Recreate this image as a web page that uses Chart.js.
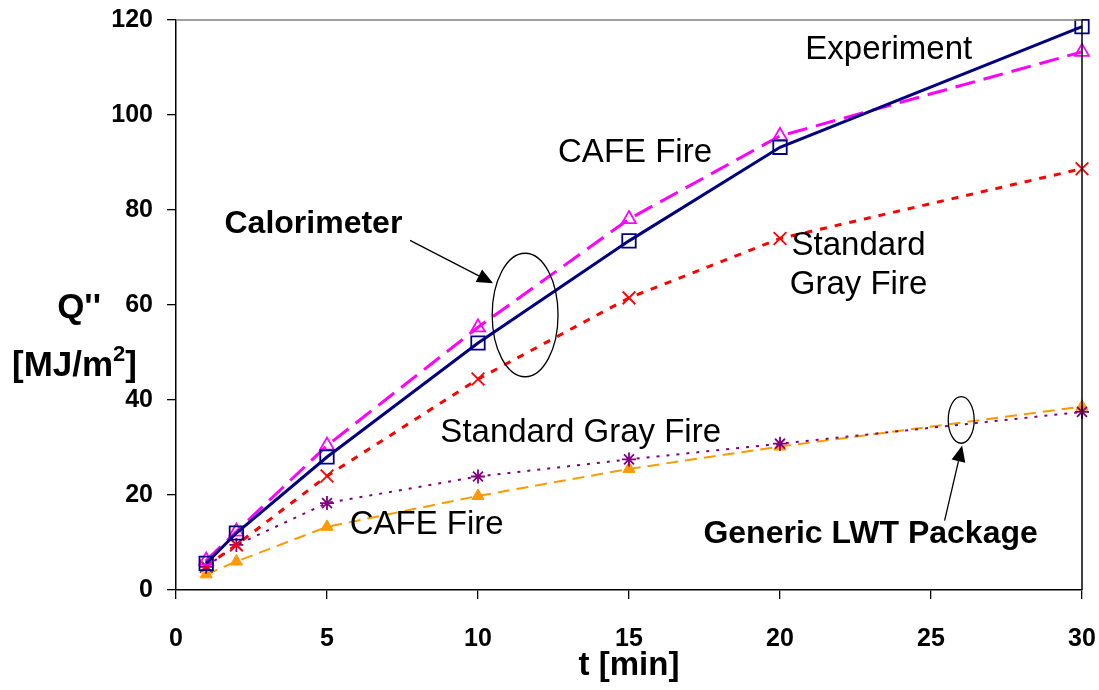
<!DOCTYPE html>
<html><head><meta charset="utf-8">
<script src="https://cdn.jsdelivr.net/npm/chart.js@4.4.1/dist/chart.umd.min.js"></script>
<style>html,body{margin:0;padding:0;background:#fff}#wrap{width:1099px;height:690px}</style>
</head><body><div id="wrap"><canvas id="c" width="1099" height="690"></canvas></div>
<script>
const times = [1, 2, 5, 10, 15, 20, 30];
const experiment = [5.6, 12, 28, 52, 73.5, 93.2, 118.6];
const cafeCalorimeter = [6.2, 12.3, 30.4, 55.3, 78.1, 95.6, 113.3];
const grayCalorimeter = [5.0, 9.5, 24.0, 44.4, 61.5, 74.0, 88.7];
const grayLWT = [4.9, 9.5, 18.3, 23.9, 27.5, 30.8, 37.5];
const cafeLWT = [3.3, 6.0, 13.3, 19.8, 25.5, 30.2, 38.6];
const xTicks = [0, 5, 10, 15, 20, 25, 30];
const yTicks = [0, 20, 40, 60, 80, 100, 120];

const FONT = "'Liberation Sans', Arial, sans-serif";
function pts(arr){ return times.map((t,i)=>({x:t,y:arr[i]})); }

const labels = [
  {text:'Experiment', x:23.6, y:113.8, bold:false},
  {text:'CAFE Fire', x:15.2, y:92.0, bold:false},
  {text:'Calorimeter', x:4.55, y:77.0, bold:true},
  {text:'Standard', x:22.6, y:72.5, bold:false},
  {text:'Gray Fire', x:22.6, y:64.2, bold:false},
  {text:'Standard Gray Fire', x:13.4, y:33.0, bold:false},
  {text:'CAFE Fire', x:8.3, y:13.7, bold:false},
  {text:'Generic LWT Package', x:23.0, y:11.7, bold:true}
];
const ellipses = [
  {x:11.56, y:57.9, rx:1.09, ry:13.0},
  {x:26.0, y:35.8, rx:0.43, ry:4.9}
];
const arrows = [
  {x1:7.75, y1:73.6, x2:10.5, y2:64.6},
  {x1:25.45, y1:14.6, x2:26.03, y2:30.4}
];

const annot = {
  id:'annot',
  afterDraw(chart){
    const ctx = chart.ctx, xs = chart.scales.x, ys = chart.scales.y, ca = chart.chartArea;
    ctx.save();
    ctx.lineWidth = 1.5;
    ctx.strokeStyle = '#808080';
    ctx.beginPath(); ctx.moveTo(ca.left, ca.top); ctx.lineTo(ca.right, ca.top); ctx.stroke();
    ctx.strokeStyle = '#000';
    ctx.beginPath(); ctx.moveTo(ca.right, ca.top); ctx.lineTo(ca.right, ca.bottom); ctx.stroke();
    ctx.fillStyle = '#000';
    ctx.textAlign = 'center'; ctx.textBaseline = 'middle';
    labels.forEach(l=>{
      ctx.font = (l.bold?'bold 32px ':'33px ') + FONT;
      ctx.fillText(l.text, xs.getPixelForValue(l.x), ys.getPixelForValue(l.y));
    });
    ctx.lineWidth = 1.3; ctx.strokeStyle = '#000';
    ellipses.forEach(e=>{
      const cx = xs.getPixelForValue(e.x), cy = ys.getPixelForValue(e.y);
      const rx = Math.abs(xs.getPixelForValue(e.x+e.rx)-cx), ry = Math.abs(ys.getPixelForValue(e.y+e.ry)-cy);
      ctx.beginPath(); ctx.ellipse(cx, cy, rx, ry, 0, 0, Math.PI*2); ctx.stroke();
    });
    arrows.forEach(a=>{
      const x1 = xs.getPixelForValue(a.x1), y1 = ys.getPixelForValue(a.y1);
      const x2 = xs.getPixelForValue(a.x2), y2 = ys.getPixelForValue(a.y2);
      const ang = Math.atan2(y2-y1, x2-x1), L = 16, W = 7;
      const bx = x2 - L*Math.cos(ang), by = y2 - L*Math.sin(ang);
      ctx.beginPath(); ctx.moveTo(x1,y1); ctx.lineTo(bx,by); ctx.stroke();
      ctx.beginPath(); ctx.moveTo(x2,y2);
      ctx.lineTo(bx + W*Math.sin(ang), by - W*Math.cos(ang));
      ctx.lineTo(bx - W*Math.sin(ang), by + W*Math.cos(ang));
      ctx.closePath(); ctx.fill();
    });
    ctx.font = 'bold 35px ' + FONT;
    ctx.textAlign = 'right'; ctx.textBaseline = 'alphabetic';
    ctx.fillText("Q''", 101, 318);
    ctx.textAlign = 'left';
    let x = 12; const yb = 376;
    ctx.fillText('[MJ/m', x, yb); x += ctx.measureText('[MJ/m').width;
    ctx.font = 'bold 22px ' + FONT;
    ctx.fillText('2', x, yb - 15); x += ctx.measureText('2').width;
    ctx.font = 'bold 35px ' + FONT;
    ctx.fillText(']', x, yb);
    ctx.restore();
  }
};

new Chart(document.getElementById('c'), {
  type:'line',
  data:{ datasets:[
    {label:'Experiment', data:pts(experiment), borderColor:'#000080', backgroundColor:'rgba(0,0,0,0)', borderWidth:3, clip:false,
      pointStyle:'rect', pointRadius:9.5, pointBorderColor:'#000080', pointBackgroundColor:'rgba(0,0,0,0)', pointBorderWidth:1.8},
    {label:'CAFE Fire (calorimeter)', data:pts(cafeCalorimeter), borderColor:'#FF00FF', borderWidth:3, borderDash:[20,9], clip:false,
      pointStyle:'triangle', pointRadius:8, pointBorderColor:'#FF00FF', pointBackgroundColor:'rgba(0,0,0,0)', pointBorderWidth:1.8},
    {label:'Standard Gray Fire (calorimeter)', data:pts(grayCalorimeter), borderColor:'#FF0000', borderWidth:3, borderDash:[7,8], clip:false,
      pointStyle:'crossRot', pointRadius:9, pointBorderColor:'#FF0000', pointBorderWidth:1.8},
    {label:'Standard Gray Fire (LWT)', data:pts(grayLWT), borderColor:'#800080', borderWidth:2, borderDash:[3,7], clip:false,
      pointStyle:'star', pointRadius:7, pointBorderColor:'#800080', pointBorderWidth:1.8},
    {label:'CAFE Fire (LWT)', data:pts(cafeLWT), borderColor:'#FF9900', borderWidth:2, borderDash:[12,7], clip:false,
      pointStyle:'triangle', pointRadius:7, pointBorderColor:'#FF9900', pointBackgroundColor:'#FF9900', pointBorderWidth:1}
  ]},
  options:{
    responsive:false, animation:false, devicePixelRatio:1,
    layout:{padding:{left:0, right:17, top:20, bottom:0}},
    plugins:{legend:{display:false}, tooltip:{enabled:false}},
    elements:{line:{tension:0, fill:false}},
    scales:{
      x:{type:'linear', min:0, max:30,
        afterFit(s){ s.height = 100; s.paddingLeft = 0; s.paddingRight = 0; },
        afterBuildTicks(s){ s.ticks = xTicks.map(v=>({value:v})); },
        grid:{drawOnChartArea:false, drawTicks:true, tickLength:9, color:'#000', lineWidth:1.3},
        border:{display:true, color:'#000', width:1.5},
        ticks:{color:'#000', font:{family:FONT, size:25, weight:'bold'}, padding:25, maxRotation:0},
        title:{display:true, text:'t [min]', color:'#000', font:{family:FONT, size:33, weight:'bold'}, padding:{top:0, bottom:4}}
      },
      y:{type:'linear', min:0, max:120,
        afterFit(s){ s.width = 176; s.paddingTop = 0; s.paddingBottom = 0; },
        afterBuildTicks(s){ s.ticks = yTicks.map(v=>({value:v})); },
        grid:{drawOnChartArea:false, drawTicks:true, tickLength:9, color:'#000', lineWidth:1.3},
        border:{display:true, color:'#000', width:1.5},
        ticks:{color:'#000', font:{family:FONT, size:25, weight:'bold'}, padding:14}
      }
    }
  },
  plugins:[annot]
});
</script></body></html>
